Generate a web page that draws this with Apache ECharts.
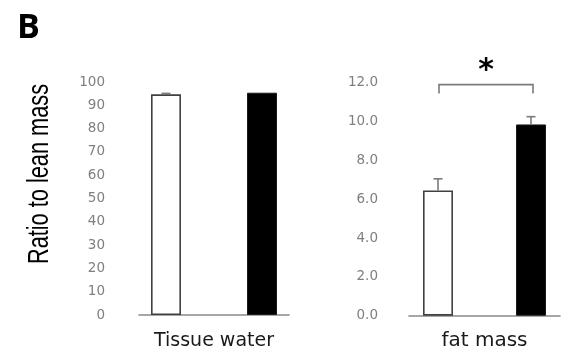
<!DOCTYPE html>
<html>
<head>
<meta charset="utf-8">
<script src="https://cdn.jsdelivr.net/npm/echarts@6/dist/echarts.min.js"></script>
<style>html,body{margin:0;padding:0;background:#fff}#c{width:571px;height:360px}</style>
</head>
<body>
<div id="c"></div>
<script>
// ---- data ----
const panelLetter = 'B';
const yAxisTitle = 'Ratio to lean mass';
const leftCategories = ['Tissue water'];
const rightCategories = ['fat mass'];
const tissueWaterCtrl = [94.7];
const tissueWaterCtrlErr = [0.4];
const tissueWaterTreat = [95.4];
const tissueWaterTreatErr = [0];
const fatMassCtrl = [6.45];
const fatMassCtrlErr = [0.6];
const fatMassTreat = [9.85];
const fatMassTreatErr = [0.4];
const leftAxisMax = 100, leftAxisStep = 10;
const rightAxisMax = 12, rightAxisStep = 2;
const sigBracketTop = [11.9];
const sigBracketBottom = [11.45];
const sigLabel = '*';

// ---- styles ----
const BAR_W = 30;
const GAP_L = 2.2, GAP_R = 2.1;
const offL = (BAR_W + BAR_W * GAP_L) / 2;
const offR = (BAR_W + BAR_W * GAP_R) / 2;
const tickColor = '#7f7f7f';
const axisColor = '#8a8a8a';

function errSeries(xi, yi, vals, errs, off) {
  return {
    type: 'custom', xAxisIndex: xi, yAxisIndex: yi, z: 5,
    data: vals.map((v, i) => [i, v, errs[i]]),
    renderItem: function (params, api) {
      const e = api.value(2);
      if (!e) return null;
      const b = api.coord([api.value(0), api.value(1)]);
      const t = api.coord([api.value(0), api.value(1) + e]);
      const x = b[0] + off;
      const st = { stroke: '#7a7a7a', lineWidth: 1.6 };
      return { type: 'group', children: [
        { type: 'line', shape: { x1: x, y1: b[1], x2: x, y2: t[1] }, style: st },
        { type: 'line', shape: { x1: x - 4.5, y1: t[1], x2: x + 4.5, y2: t[1] }, style: st }
      ]};
    }
  };
}

const chart = echarts.init(document.getElementById('c'), null, { renderer: 'canvas' });
chart.setOption({
  animation: false,
  backgroundColor: '#fff',
  title: { text: panelLetter, left: 12, top: 6,
    textStyle: { fontFamily: 'Open Sans', fontWeight: 'bold', fontSize: 34, color: '#000' } },
  graphic: [{
    type: 'text', x: 40, y: 174, rotation: Math.PI / 2, scaleX: 0.75, scaleY: 1,
    style: { text: yAxisTitle, fontFamily: 'Liberation Sans', fontSize: 29, fill: '#000',
      textAlign: 'center', textVerticalAlign: 'middle' }
  }],
  grid: [
    { left: 139, width: 150, top: 82, height: 233 },
    { left: 409, width: 151, top: 82.7, height: 233 }
  ],
  xAxis: [
    { type: 'category', gridIndex: 0, data: leftCategories,
      axisLine: { lineStyle: { color: axisColor, width: 1.6 } }, axisTick: { show: false },
      axisLabel: { margin: 17, fontFamily: 'DejaVu Sans', fontSize: 19, color: '#1a1a1a' } },
    { type: 'category', gridIndex: 1, data: rightCategories,
      axisLine: { lineStyle: { color: axisColor, width: 1.6 } }, axisTick: { show: false },
      axisLabel: { margin: 15, fontFamily: 'DejaVu Sans', fontSize: 20, color: '#1a1a1a' } }
  ],
  yAxis: [
    { type: 'value', gridIndex: 0, min: 0, max: leftAxisMax, interval: leftAxisStep,
      axisLine: { show: false }, axisTick: { show: false }, splitLine: { show: false },
      axisLabel: { margin: 34, fontFamily: 'DejaVu Sans', fontSize: 13.5, color: tickColor } },
    { type: 'value', gridIndex: 1, min: 0, max: rightAxisMax, interval: rightAxisStep,
      axisLine: { show: false }, axisTick: { show: false }, splitLine: { show: false },
      axisLabel: { margin: 31, fontFamily: 'DejaVu Sans', fontSize: 13.5, color: tickColor,
        formatter: v => v.toFixed(1) } }
  ],
  series: [
    { type: 'bar', xAxisIndex: 0, yAxisIndex: 0, data: tissueWaterCtrl, barWidth: BAR_W, barGap: (GAP_L * 100) + '%',
      itemStyle: { color: '#fff', borderColor: '#404040', borderWidth: 1.6 } },
    { type: 'bar', xAxisIndex: 0, yAxisIndex: 0, data: tissueWaterTreat, barWidth: BAR_W,
      itemStyle: { color: '#000', borderColor: '#1a1a1a', borderWidth: 1 } },
    { type: 'bar', xAxisIndex: 1, yAxisIndex: 1, data: fatMassCtrl, barWidth: BAR_W, barGap: (GAP_R * 100) + '%',
      itemStyle: { color: '#fff', borderColor: '#404040', borderWidth: 1.6 } },
    { type: 'bar', xAxisIndex: 1, yAxisIndex: 1, data: fatMassTreat, barWidth: BAR_W,
      itemStyle: { color: '#000', borderColor: '#1a1a1a', borderWidth: 1 } },
    errSeries(0, 0, tissueWaterCtrl, tissueWaterCtrlErr, -offL),
    errSeries(0, 0, tissueWaterTreat, tissueWaterTreatErr, offL),
    errSeries(1, 1, fatMassCtrl, fatMassCtrlErr, -offR),
    errSeries(1, 1, fatMassTreat, fatMassTreatErr, offR),
    {
      type: 'custom', xAxisIndex: 1, yAxisIndex: 1, z: 6,
      data: sigBracketTop.map((v, i) => [i, v, sigBracketBottom[i]]),
      renderItem: function (params, api) {
        const t = api.coord([api.value(0), api.value(1)]);
        const b = api.coord([api.value(0), api.value(2)]);
        const x1 = t[0] - offR + 1, x2 = t[0] + offR + 2;
        return { type: 'group', children: [
          { type: 'polyline', shape: { points: [[x1, b[1]], [x1, t[1]], [x2, t[1]], [x2, b[1]]] },
            style: { stroke: '#7a7a7a', lineWidth: 1.6, fill: null } },
          { type: 'text', x: (x1 + x2) / 2, y: t[1] - 13,
            style: { text: sigLabel, fontFamily: 'DejaVu Sans', fontWeight: 'bold', fontSize: 30,
              fill: '#000', textAlign: 'center', textVerticalAlign: 'middle' } }
        ]};
      }
    }
  ]
});
</script>
</body>
</html>
